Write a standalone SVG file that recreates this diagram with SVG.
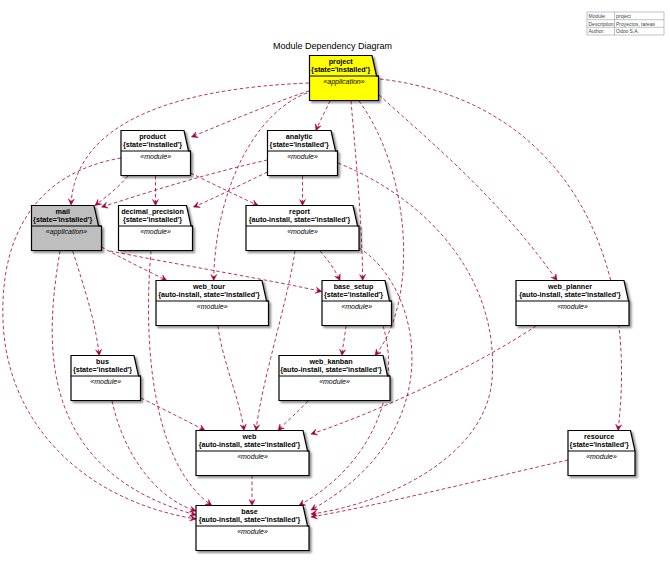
<svg xmlns="http://www.w3.org/2000/svg" width="670" height="561" viewBox="0 0 670 561">
  <style>
    .pkg { stroke: #000; stroke-width: 1.2; fill: #fff; filter: url(#shadow); }
    .sep { stroke: #000; stroke-width: 1.2; fill: none; }
    .name { font-family: "Liberation Sans", Arial, sans-serif; font-size: 7.2px; font-weight: bold; fill: #000; text-anchor: middle; }
    .stereo { font-family: "Liberation Sans", Arial, sans-serif; font-size: 7px; font-style: italic; fill: #000; text-anchor: middle; }
    .title { font-family: "Liberation Sans", Arial, sans-serif; font-size: 9px; fill: #000; text-anchor: middle; }
    .legend { font-family: "Liberation Sans", Arial, sans-serif; font-size: 5px; fill: #444; }
    .legend-grid { stroke: #999; stroke-width: 0.6; fill: #fff; }
    .dep { fill: none; stroke: #A80036; stroke-width: 0.8; stroke-dasharray: 3.5 2.5; marker-end: url(#arrow); }
  </style>
  <defs>
    <filter id="shadow" x="-10%" y="-10%" width="130%" height="140%">
      <feDropShadow dx="2" dy="2" stdDeviation="1" flood-color="#000" flood-opacity="0.45"/>
    </filter>
    <marker id="arrow" viewBox="-7 -4 8 8" refX="0" refY="0" markerWidth="8" markerHeight="8" markerUnits="userSpaceOnUse" orient="auto">
      <path d="M0,0 L-6,-3 L-3.5,0 L-6,3 Z" fill="#A80036" stroke="#A80036" stroke-width="0.5"/>
    </marker>
  </defs>

  <rect width="670" height="561" fill="#fff"/>

  <!-- header table -->
  <g id="legend">
    <rect class="legend-grid" x="587" y="12" width="77" height="23"/>
    <path class="legend-grid" d="M587,19.7 H664 M587,27.3 H664 M614.5,12 V35"/>
    <text class="legend" x="588.5" y="18">Module:</text>
    <text class="legend" x="616" y="18">project</text>
    <text class="legend" x="588.5" y="25.6">Description:</text>
    <text class="legend" x="616" y="25.6">Proyectos, tareas</text>
    <text class="legend" x="588.5" y="33.2">Author:</text>
    <text class="legend" x="616" y="33.2">Odoo S.A.</text>
  </g>

  <text class="title" x="332.5" y="49">Module Dependency Diagram</text>

  <!-- dependency arrows -->
  <g id="connectors">
    <!-- project -->
    <path class="dep" d="M309,91 C280,100 220,125 191.5,137"/>
    <path class="dep" d="M309,83 C180,88 75,120 71,205"/>
    <path class="dep" d="M307,93 C255,112 215,190 213.7,280.5"/>
    <path class="dep" d="M330,101 C326,110 320,120 316,130.5"/>
    <path class="dep" d="M351,101 C356,160 362,220 362.7,280.5"/>
    <path class="dep" d="M359,101 C410,170 420,300 375,355.5"/>
    <path class="dep" d="M379,95 C440,150 500,200 557,280.5"/>
    <path class="dep" d="M380,79 C560,100 640,250 618,430.5"/>
    <!-- product -->
    <path class="dep" d="M128,176 C118,188 106,197 95,205.5"/>
    <path class="dep" d="M155.5,176 L155.5,205.5"/>
    <path class="dep" d="M190.5,173 C215,185 240,197 258,205.5"/>
    <path class="dep" d="M121,158 C40,172 0,230 3,320 C6,420 80,500 196,519"/>
    <!-- analytic -->
    <path class="dep" d="M267.5,160 C200,175 140,195 101.5,207"/>
    <path class="dep" d="M267.5,172 C240,185 215,198 193.5,207"/>
    <path class="dep" d="M302.5,176 L302.5,205.5"/>
    <path class="dep" d="M338,163 C430,200 500,280 492,380 C485,460 380,505 311,514"/>
    <!-- mail -->
    <path class="dep" d="M101.5,247 C125,260 150,272 166.7,280.5"/>
    <path class="dep" d="M110,251 C180,265 270,280 321.7,291.5"/>
    <path class="dep" d="M60,251 C45,340 35,470 196,515"/>
    <path class="dep" d="M72.7,251 C85,290 95,320 99.3,355.5"/>
    <!-- decimal_precision -->
    <path class="dep" d="M151,251 C144,330 148,460 211.7,505.5"/>
    <!-- report -->
    <path class="dep" d="M295,251 C288,300 262,380 256,430.5"/>
    <path class="dep" d="M320,251 C330,262 336,272 340,280.5"/>
    <path class="dep" d="M359,248 C420,285 455,430 311,510"/>
    <!-- web_tour -->
    <path class="dep" d="M218,326 C222,360 240,400 244,430.5"/>
    <!-- base_setup -->
    <path class="dep" d="M346,326 C345,335 343,345 342,355.5"/>
    <path class="dep" d="M383,326 C400,380 380,460 299,505.5"/>
    <!-- web_planner -->
    <path class="dep" d="M536,326 C470,370 370,415 311,434"/>
    <!-- bus -->
    <path class="dep" d="M141,398 C165,410 185,420 205,430.5"/>
    <path class="dep" d="M112,401 C125,460 160,500 196,511"/>
    <!-- web_kanban -->
    <path class="dep" d="M308,401 C298,412 287,421 278,430.5"/>
    <!-- web -->
    <path class="dep" d="M252,475.5 L252,505.5"/>
    <!-- resource -->
    <path class="dep" d="M568,460 C480,480 380,505 311,517"/>
  </g>

  <!-- modules -->
  <g id="project">
    <path class="pkg" style="fill:#FFFF00" d="M309.5,55.5 H372 L376.5,76 H378.5 V100.5 H309.5 Z"/>
    <path class="sep" d="M309.5,76 H378.5"/>
    <text class="name" x="340.7" y="64">project</text>
    <text class="name" x="340.7" y="72">{state='installed'}</text>
    <text class="stereo" x="344" y="84">«application»</text>
  </g>

  <g id="product">
    <path class="pkg" d="M121,130.5 H184 L188.5,151 H190.5 V175.5 H121 Z"/>
    <path class="sep" d="M121,151 H190.5"/>
    <text class="name" x="152.5" y="139.2">product</text>
    <text class="name" x="152.5" y="147.2">{state='installed'}</text>
    <text class="stereo" x="155.7" y="159">«module»</text>
  </g>

  <g id="analytic">
    <path class="pkg" d="M267.5,130.5 H331 L335.5,151 H337.5 V175.5 H267.5 Z"/>
    <path class="sep" d="M267.5,151 H337.5"/>
    <text class="name" x="299.2" y="139.2">analytic</text>
    <text class="name" x="299.2" y="147.2">{state='installed'}</text>
    <text class="stereo" x="302.5" y="159">«module»</text>
  </g>

  <g id="mail">
    <path class="pkg" style="fill:#BEBEBE" d="M31.5,205.5 H94 L98.5,226 H101.5 V250.5 H31.5 Z"/>
    <path class="sep" d="M31.5,226 H101.5"/>
    <text class="name" x="62.7" y="214.2">mail</text>
    <text class="name" x="62.7" y="222.2">{state='installed'}</text>
    <text class="stereo" x="66.5" y="234">«application»</text>
  </g>

  <g id="decimal_precision">
    <path class="pkg" d="M118.5,205.5 H186.5 L191,226 H192.5 V250.5 H118.5 Z"/>
    <path class="sep" d="M118.5,226 H192.5"/>
    <text class="name" x="152.5" y="214.2">decimal_precision</text>
    <text class="name" x="152.5" y="222.2">{state='installed'}</text>
    <text class="stereo" x="155.5" y="234">«module»</text>
  </g>

  <g id="report">
    <path class="pkg" d="M246,205.5 H353 L357.5,226 H359 V250.5 H246 Z"/>
    <path class="sep" d="M246,226 H359"/>
    <text class="name" x="299.5" y="214.2">report</text>
    <text class="name" x="299.5" y="222.2">{auto-install, state='installed'}</text>
    <text class="stereo" x="302.5" y="234">«module»</text>
  </g>

  <g id="web_tour">
    <path class="pkg" d="M156,280.5 H262 L266.5,301 H268.5 V325.5 H156 Z"/>
    <path class="sep" d="M156,301 H268.5"/>
    <text class="name" x="209" y="289.2">web_tour</text>
    <text class="name" x="209" y="297.2">{auto-install, state='installed'}</text>
    <text class="stereo" x="212.2" y="309">«module»</text>
  </g>

  <g id="base_setup">
    <path class="pkg" d="M322,280.5 H385 L389.5,301 H391.5 V325.5 H322 Z"/>
    <path class="sep" d="M322,301 H391.5"/>
    <text class="name" x="353.5" y="289.2">base_setup</text>
    <text class="name" x="353.5" y="297.2">{state='installed'}</text>
    <text class="stereo" x="356.7" y="309">«module»</text>
  </g>

  <g id="web_planner">
    <path class="pkg" d="M516,280.5 H624 L628.5,301 H629 V325.5 H516 Z"/>
    <path class="sep" d="M516,301 H629"/>
    <text class="name" x="570" y="289.2">web_planner</text>
    <text class="name" x="570" y="297.2">{auto-install, state='installed'}</text>
    <text class="stereo" x="572.5" y="309">«module»</text>
  </g>

  <g id="bus">
    <path class="pkg" d="M71,355.5 H134 L138.5,376 H140.5 V400.5 H71 Z"/>
    <path class="sep" d="M71,376 H140.5"/>
    <text class="name" x="102.5" y="364.2">bus</text>
    <text class="name" x="102.5" y="372.2">{state='installed'}</text>
    <text class="stereo" x="105.7" y="384">«module»</text>
  </g>

  <g id="web_kanban">
    <path class="pkg" d="M279,355.5 H383 L387.5,376 H390 V400.5 H279 Z"/>
    <path class="sep" d="M279,376 H390"/>
    <text class="name" x="331" y="364.2">web_kanban</text>
    <text class="name" x="331" y="372.2">{auto-install, state='installed'}</text>
    <text class="stereo" x="334.5" y="384">«module»</text>
  </g>

  <g id="web">
    <path class="pkg" d="M196,430.5 H303 L307.5,451 H309 V475.5 H196 Z"/>
    <path class="sep" d="M196,451 H309"/>
    <text class="name" x="249.5" y="439.2">web</text>
    <text class="name" x="249.5" y="447.2">{auto-install, state='installed'}</text>
    <text class="stereo" x="252.5" y="459">«module»</text>
  </g>

  <g id="resource">
    <path class="pkg" d="M568,430.5 H630.5 L635,451 H635 V475.5 H568 Z"/>
    <path class="sep" d="M568,451 H635"/>
    <text class="name" x="599.2" y="439.2">resource</text>
    <text class="name" x="599.2" y="447.2">{state='installed'}</text>
    <text class="stereo" x="601.5" y="459">«module»</text>
  </g>

  <g id="base">
    <path class="pkg" d="M196,505.5 H303 L307.5,526 H309 V550.5 H196 Z"/>
    <path class="sep" d="M196,526 H309"/>
    <text class="name" x="249.5" y="514.2">base</text>
    <text class="name" x="249.5" y="522.2">{auto-install, state='installed'}</text>
    <text class="stereo" x="252.5" y="534">«module»</text>
  </g>
</svg>
